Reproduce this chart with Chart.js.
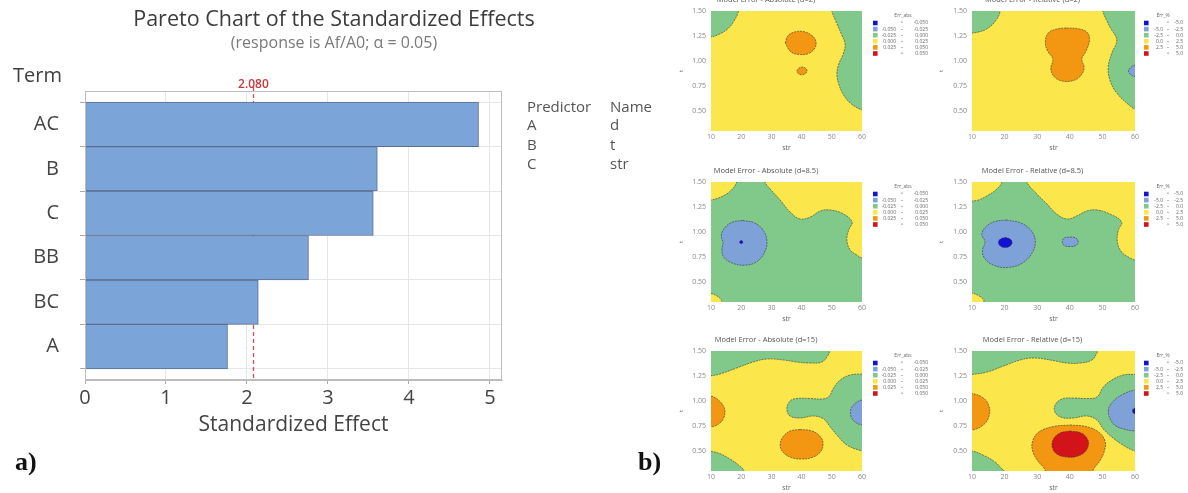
<!DOCTYPE html>
<html>
<head>
<meta charset="utf-8">
<script src="https://cdn.jsdelivr.net/npm/chart.js@4.4.1/dist/chart.umd.min.js"></script>
<style>
  html, body { margin: 0; padding: 0; background: #fff; }
  body { width: 1188px; height: 493px; position: relative; overflow: hidden; }
  canvas { position: absolute; }
  #pareto { left: 0; top: 0; }
  .contour { filter: blur(0.5px); }
  .tag { position: absolute; font: bold 26px "Liberation Serif", serif; color: #111; line-height: 30px; }
</style>
</head>
<body>
<canvas id="pareto" width="668" height="450"></canvas>
<div class="tag" style="left:15px; top:447px">a)</div>
<div class="tag" style="left:638px; top:447px">b)</div>
<script>
// ---------- a) Pareto chart ----------
const terms = ['AC', 'B', 'C', 'BB', 'BC', 'A'];
const effects = [4.86, 3.61, 3.56, 2.76, 2.14, 1.76];
const critical = 2.080;
const effectTicks = [0, 1, 2, 3, 4, 5];
const predictors = ['A', 'B', 'C'];
const predictorNames = ['d', 't', 'str'];

// ---------- b) model error contour maps ----------
// levels: 0 dark blue, 1 light blue, 2 green, 3 yellow, 4 orange, 5 red
const levelColors = ['#1212d6', '#7ea1d7', '#80c98b', '#fbe64c', '#f39612', '#d2141a'];
const absLegendRows = [['', '<', '-0.050'], ['-0.050', '–', '-0.025'], ['-0.025', '–', '0.000'],
                       ['0.000', '–', '0.025'], ['0.025', '–', '0.050'], ['', '>', '0.050']];
const relLegendRows = [['', '<', '-5.0'], ['-5.0', '–', '-2.5'], ['-2.5', '–', '0.0'],
                       ['0.0', '–', '2.5'], ['2.5', '–', '5.0'], ['', '>', '5.0']];
const legendTitles = ['Err_abs', 'Err_%'];
const strTicks = [10, 20, 30, 40, 50, 60];
const tTicks = [0.5, 0.75, 1.0, 1.25, 1.5];

// each region: [level, outline points as [str, t]]
const d2AbsRegions = [
  [2, [[5,1.6],[19.2,1.6],[19.1,1.5],[17.6,1.4],[15.5,1.32],[12.5,1.265],[10,1.24],[5,1.22]]],
  [2, [[49.5,1.6],[50,1.5],[51.6,1.38],[53.3,1.26],[54.4,1.17],[53.8,1.07],[52.3,0.97],[51.7,0.87],[52.3,0.77],[53.9,0.66],[56.5,0.57],[60,0.51],[65,0.47],[65,1.6]]],
  [4, [[34.6,1.18],[35.4,1.25],[37.6,1.29],[40.5,1.295],[43.2,1.26],[44.7,1.2],[44.4,1.13],[42.3,1.075],[39.5,1.065],[36.5,1.09]]],
  [4, [[38.4,0.9],[39.2,0.93],[40.3,0.94],[41.4,0.925],[41.8,0.9],[41.2,0.872],[40,0.862],[38.9,0.875]]]
];
const d2RelRegions = [
  [2, [[5,1.6],[18.8,1.6],[18.7,1.5],[17.2,1.4],[14.5,1.32],[12,1.29],[10,1.28],[5,1.26]]],
  [2, [[49.7,1.6],[50.1,1.5],[52.3,1.34],[54.4,1.21],[52.9,1.08],[51.8,0.94],[52.3,0.81],[54.4,0.68],[58.5,0.55],[60,0.52],[65,0.48],[65,1.6]]],
  [1, [[62,0.96],[60,0.96],[58.8,0.94],[58,0.9],[58.8,0.86],[60,0.845],[62,0.845]]],
  [4, [[39,1.33],[43,1.32],[45.5,1.28],[46,1.2],[45,1.1],[43.7,1.02],[44.4,0.93],[43,0.84],[40.5,0.8],[37.7,0.8],[35.3,0.84],[34.2,0.92],[34.8,1.02],[33.2,1.1],[32.5,1.19],[33.4,1.28],[36,1.32]]]
];
const d85AbsRegions = [
  [3, [[5,1.6],[18.5,1.6],[18.5,1.5],[16.8,1.42],[14.6,1.37],[12,1.335],[10,1.32],[5,1.3]]],
  [3, [[27.5,1.6],[27.9,1.5],[29.6,1.43],[32.9,1.32],[36.2,1.2],[39.5,1.13],[42.9,1.15],[46.2,1.21],[49.5,1.22],[53.9,1.18],[56.7,1.1],[55.6,1.02],[55,0.92],[56.1,0.82],[58.3,0.77],[60,0.74],[65,0.72],[65,1.6]]],
  [1, [[20.5,1.115],[24.5,1.09],[27.2,1.02],[28.5,0.92],[27.8,0.8],[25,0.7],[21,0.668],[17,0.69],[14.2,0.75],[13.6,0.83],[14,0.89],[13.4,0.97],[14.8,1.05],[17.2,1.1]]],
  [0, [[20,0.918],[20.6,0.9],[20,0.882],[19.4,0.9]]],
  [3, [[5,0.4],[10,0.385],[12,0.36],[13.2,0.33],[13.6,0.3],[13.8,0.2],[5,0.2]]]
];
const d85RelRegions = [
  [3, [[5,1.6],[19.2,1.6],[19.2,1.5],[17.3,1.42],[14.5,1.36],[12,1.32],[10,1.31],[5,1.3]]],
  [3, [[26.5,1.6],[26.8,1.5],[29.9,1.38],[33,1.28],[36,1.18],[39.1,1.13],[42.1,1.16],[45.2,1.21],[48.3,1.22],[52.3,1.18],[55.9,1.1],[54.9,1.02],[54.6,0.9],[55.9,0.8],[58.5,0.74],[60,0.72],[65,0.7],[65,1.6]]],
  [1, [[20.5,1.12],[25,1.09],[28,1.02],[29.4,0.92],[28.6,0.8],[25.5,0.69],[21,0.645],[16.5,0.67],[13.8,0.74],[13.2,0.82],[14,0.9],[13,0.98],[14.5,1.06],[17,1.105]]],
  [0, [[20.2,0.945],[21.7,0.93],[22.3,0.895],[21.7,0.86],[20.2,0.845],[18.7,0.86],[18.1,0.895],[18.7,0.93]]],
  [1, [[40.1,0.95],[41.9,0.94],[42.6,0.9],[41.9,0.865],[40.1,0.855],[38.3,0.865],[37.7,0.9],[38.3,0.94]]],
  [3, [[5,0.4],[10,0.39],[12.2,0.36],[13.4,0.33],[13.7,0.3],[13.8,0.2],[5,0.2]]]
];
const d15AbsRegions = [
  [2, [[5,1.6],[5,1.245],[10,1.253],[13,1.27],[18.5,1.33],[24,1.39],[28.5,1.42],[34,1.41],[38.4,1.39],[42.9,1.38],[46.7,1.39],[48.6,1.45],[49.3,1.5],[49.6,1.6]]],
  [2, [[65,1.28],[60,1.27],[56.1,1.26],[52.8,1.21],[50.6,1.13],[48.9,1.04],[46.7,1.02],[42.9,1.025],[38.4,1.025],[36.2,1.0],[35.1,0.92],[36.2,0.85],[39.5,0.83],[44,0.85],[47.3,0.82],[49.5,0.74],[51.7,0.66],[55,0.56],[60,0.5],[65,0.47]]],
  [1, [[65,1.02],[60,1.01],[57.5,0.97],[56.2,0.9],[57,0.81],[60,0.76],[65,0.75]]],
  [4, [[5,1.06],[10,1.05],[12.8,1.0],[14.5,0.92],[14.2,0.83],[12.5,0.77],[10,0.74],[5,0.73]]],
  [4, [[39.5,0.715],[43.5,0.7],[46.3,0.64],[47.1,0.57],[46.2,0.49],[43.5,0.435],[40,0.42],[36.5,0.435],[33.8,0.49],[32.9,0.56],[33.8,0.64],[36.2,0.7]]],
  [2, [[5,0.51],[10,0.497],[13,0.473],[16.3,0.42],[19.1,0.36],[21,0.3],[21.2,0.2],[5,0.2]]]
];
const d15RelRegions = [
  [2, [[5,1.6],[5,1.26],[10,1.266],[14.6,1.29],[19.7,1.35],[24.8,1.41],[28.9,1.43],[34,1.41],[39.1,1.38],[43.2,1.38],[46.8,1.41],[48.3,1.48],[48.5,1.5],[48.7,1.6]]],
  [2, [[65,1.27],[60,1.266],[56.4,1.26],[52.9,1.21],[50.3,1.14],[48.3,1.04],[45.2,1.025],[41.1,1.03],[37.6,1.02],[35.5,0.96],[35.5,0.885],[37.6,0.835],[41.1,0.83],[45.2,0.85],[48.3,0.81],[50.3,0.72],[52.9,0.64],[56.4,0.557],[60,0.5],[65,0.47]]],
  [1, [[65,1.12],[60,1.11],[56.5,1.07],[53.4,1.0],[51.8,0.9],[53.4,0.77],[56.5,0.72],[60,0.7],[65,0.69]]],
  [0, [[65,0.93],[60,0.93],[59.2,0.9],[60,0.87],[65,0.87]]],
  [4, [[5,1.08],[10,1.075],[13.5,1.03],[15.2,0.95],[15.3,0.86],[13.8,0.77],[10,0.707],[5,0.7]]],
  [4, [[40.1,0.76],[45,0.745],[48.8,0.69],[50.8,0.6],[50.6,0.5],[49.2,0.4],[47.3,0.32],[46.5,0.25],[33,0.25],[32.3,0.32],[30.2,0.4],[28.6,0.5],[28.6,0.6],[30.5,0.69],[35,0.745]]],
  [5, [[40,0.7],[43.5,0.68],[45.4,0.62],[45.7,0.56],[44.6,0.49],[42,0.445],[39,0.44],[36,0.47],[34.6,0.54],[35,0.62],[37,0.68]]],
  [2, [[5,0.51],[10,0.5],[13.6,0.456],[17.1,0.39],[19.2,0.32],[19.9,0.3],[20.1,0.2],[5,0.2]]]
];

const panelTitles = ['Model Error - Absolute (d=2)', 'Model Error - Relative (d=2)',
                     'Model Error - Absolute (d=8.5)', 'Model Error - Relative (d=8.5)',
                     'Model Error - Absolute (d=15)', 'Model Error - Relative (d=15)'];
const panelBase = [3, 3, 2, 2, 3, 3];
const panelRegions = [d2AbsRegions, d2RelRegions, d85AbsRegions, d85RelRegions, d15AbsRegions, d15RelRegions];

const FONT = '"Open Sans", "Noto Sans", sans-serif';

// frame, critical line, labels and predictor table around the pareto bars
const paretoExtras = {
  id: 'paretoExtras',
  beforeDatasetsDraw(chart) {
    const {ctx, chartArea: a, scales: {x}} = chart;
    const px = Math.round(x.getPixelForValue(critical)) + 0.5;
    ctx.save();
    ctx.strokeStyle = '#dc4a50';
    ctx.lineWidth = 1.3;
    ctx.setLineDash([4, 3]);
    ctx.beginPath();
    ctx.moveTo(px, a.top - 4);
    ctx.lineTo(px, a.bottom);
    ctx.stroke();
    ctx.restore();
  },
  afterDraw(chart) {
    const {ctx, chartArea: a, scales: {x}} = chart;
    ctx.save();
    ctx.strokeStyle = '#bdbdbd';
    ctx.lineWidth = 1;
    ctx.strokeRect(a.left + 0.5, a.top + 0.5, a.right - a.left - 1, a.bottom - a.top - 1);

    ctx.fillStyle = '#c8373c';
    ctx.font = '600 12px ' + FONT;
    ctx.textAlign = 'center';
    ctx.textBaseline = 'middle';
    ctx.fillText(critical.toFixed(3), x.getPixelForValue(critical), a.top - 6);

    ctx.fillStyle = '#404040';
    ctx.font = '20px ' + FONT;
    ctx.textAlign = 'left';
    ctx.fillText('Term', 13, a.top - 15);

    ctx.fillStyle = '#555';
    ctx.font = '15px ' + FONT;
    const c1 = a.right + 25, c2 = a.right + 108;
    ctx.fillText('Predictor', c1, a.top + 17);
    ctx.fillText('Name', c2, a.top + 17);
    predictors.forEach((p, i) => {
      const y = a.top + 35 + i * 19.5;
      ctx.fillText(p, c1, y);
      ctx.fillText(predictorNames[i], c2, y);
    });
    ctx.restore();
  }
};

new Chart(document.getElementById('pareto'), {
  type: 'bar',
  data: {
    datasets: [{
      data: terms.map((t, i) => ({x: effects[i], y: i})),
      backgroundColor: '#7ba4d9',
      borderColor: '#5a6e8e',
      borderWidth: 1,
      borderSkipped: false,
      barPercentage: 1,
      categoryPercentage: 1
    }]
  },
  options: {
    indexAxis: 'y',
    responsive: false,
    animation: false,
    events: [],
    plugins: {
      legend: {display: false},
      tooltip: {enabled: false},
      title: {
        display: true, text: 'Pareto Chart of the Standardized Effects', color: '#3c3c3c',
        font: {family: FONT, size: 21.5, weight: 'normal'}, padding: {top: 7, bottom: 0}
      },
      subtitle: {
        display: true, text: '(response is Af/A0; α = 0.05)', color: '#7a7a7a',
        font: {family: FONT, size: 16}, padding: {top: 1, bottom: 38}
      }
    },
    scales: {
      x: {
        type: 'linear', min: 0, max: 5.15,
        afterBuildTicks: s => { s.ticks = effectTicks.map(v => ({value: v})); },
        afterFit: s => { s.height = 70; },
        ticks: {color: '#444', font: {family: FONT, size: 20}, padding: 2},
        grid: {color: '#e6e6e6', tickLength: 4, tickColor: '#aaa'},
        border: {color: '#bdbdbd'},
        title: {
          display: true, text: 'Standardized Effect', color: '#444',
          font: {family: FONT, size: 21}, padding: {top: 0, bottom: 12}
        }
      },
      y: {
        type: 'linear', reverse: true, min: -0.75, max: 5.75, offset: false,
        afterBuildTicks: s => { s.ticks = terms.map((t, i) => ({value: i})); },
        afterFit: s => { s.width = 85; },
        ticks: {color: '#444', font: {family: FONT, size: 20}, padding: 21, callback: v => terms[v]},
        grid: {color: '#e6e6e6', tickLength: 5, tickColor: '#aaa'},
        border: {color: '#bdbdbd'}
      },
      // empty right-hand axis keeps room for the predictor table
      side: {
        type: 'linear', axis: 'y', position: 'right',
        afterFit: s => { s.width = 166; },
        ticks: {display: false},
        grid: {display: false, drawTicks: false},
        border: {display: false}
      }
    }
  },
  plugins: [paretoExtras]
});

// ---------- contour panels ----------
const colLeft = [670, 930], colWidth = [260, 258], axisWidth = [41, 42], padRight = [68, 53];
const rowTop = [-11, 160, 329];
// legend column offsets from the plot's right edge: box, first value end, separator, second value end, title centre
const legendGeom = [
  {box: 11, lo: 34, sep: 40, hi: 66, title: 41},
  {box: 9, lo: 28, sep: 33, hi: 48, title: 28}
];

function levelLegend(kind) {
  const rows = kind === 0 ? absLegendRows : relLegendRows;
  const g = legendGeom[kind];
  return {
    id: 'levelLegend',
    beforeDatasetsDraw(chart) {
      const {ctx, chartArea: a} = chart;
      ctx.save();
      ctx.fillStyle = levelColors[chart.options.baseLevel];
      ctx.fillRect(a.left, a.top, a.right - a.left, a.bottom - a.top);
      ctx.restore();
    },
    afterDraw(chart) {
      const {ctx, chartArea: a} = chart;
      ctx.save();
      ctx.font = '5px ' + FONT;
      ctx.fillStyle = '#666';
      ctx.textBaseline = 'middle';
      ctx.textAlign = 'center';
      ctx.fillText(legendTitles[kind], a.right + g.title, a.top + 5);
      rows.forEach((r, i) => {
        const y = a.top + 12 + i * 6.1;
        ctx.fillStyle = levelColors[i];
        ctx.fillRect(a.right + g.box, y - 2.3, 4.6, 4.6);
        ctx.fillStyle = '#666';
        ctx.textAlign = 'right';
        ctx.fillText(r[0], a.right + g.lo, y);
        ctx.fillText(r[2], a.right + g.hi, y);
        ctx.textAlign = 'center';
        ctx.fillText(r[1], a.right + g.sep, y);
      });
      ctx.restore();
    }
  };
}

panelTitles.forEach((title, i) => {
  const col = i % 2, row = Math.floor(i / 2);
  const cv = document.createElement('canvas');
  cv.className = 'contour';
  cv.width = colWidth[col];
  cv.height = 170;
  cv.style.left = colLeft[col] + 'px';
  cv.style.top = rowTop[row] + 'px';
  document.body.appendChild(cv);

  const regions = panelRegions[i];
  const datasets = regions.map(([level, pts], k) => ({
    data: pts.concat([pts[0]]).map(([x, y]) => ({x, y})),
    showLine: true,
    fill: 'shape',
    tension: 0.4,
    backgroundColor: levelColors[level],
    borderColor: 'rgba(50,50,50,0.85)',
    borderWidth: 0.7,
    borderDash: [2, 1],
    pointRadius: 0,
    order: regions.length - k
  }));

  new Chart(cv, {
    type: 'scatter',
    data: {datasets},
    options: {
      responsive: false,
      animation: false,
      events: [],
      baseLevel: panelBase[i],
      layout: {padding: {right: padRight[col]}},
      elements: {line: {capBezierPoints: false}},
      plugins: {
        legend: {display: false},
        tooltip: {enabled: false},
        title: {
          display: true, text: title, color: '#555',
          font: {family: FONT, size: 7.5, weight: 'normal'}, padding: {top: 6, bottom: 7}
        }
      },
      scales: {
        x: {
          type: 'linear', min: 10, max: 60,
          afterBuildTicks: s => { s.ticks = strTicks.map(v => ({value: v})); },
          afterFit: s => { s.height = 28; },
          ticks: {color: '#888', font: {family: FONT, size: 7}, padding: 2},
          grid: {display: false, drawTicks: false},
          border: {display: false},
          title: {display: true, text: 'str', color: '#666', font: {family: FONT, size: 7}, padding: {top: 0, bottom: 7}}
        },
        y: {
          type: 'linear', min: 0.3, max: 1.5,
          afterBuildTicks: s => { s.ticks = tTicks.map(v => ({value: v})); },
          afterFit: s => { s.width = axisWidth[col]; },
          ticks: {color: '#888', font: {family: FONT, size: 7}, padding: 5, callback: v => v.toFixed(2)},
          grid: {display: false, drawTicks: false},
          border: {display: false},
          title: {display: true, text: 't', color: '#666', font: {family: FONT, size: 6}, padding: {top: 8, bottom: 0}}
        }
      }
    },
    plugins: [levelLegend(col)]
  });
});
</script>
</body>
</html>
